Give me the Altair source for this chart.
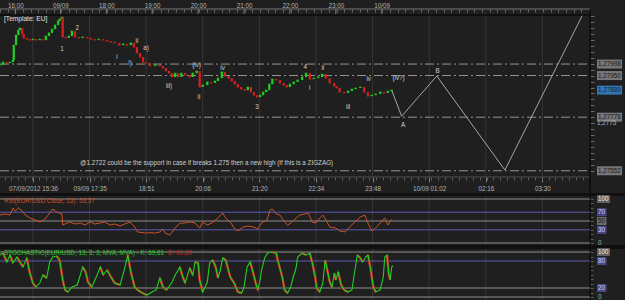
import altair as alt
import numpy as np
import pandas as pd

# ---------------- data (x = trading-clock minutes from the left edge) ----------------
candle_time = [0, 4, 9, 13, 17, 18, 21, 24, 26, 29,
               31, 35, 39, 43, 47, 52, 56, 60, 64, 68,
               72, 76, 78, 81, 82, 86, 90, 94, 98, 103,
               108, 114, 119, 124, 129, 135, 140, 145, 150, 156,
               161, 166, 171, 175, 179, 183, 187, 191, 196, 203,
               209, 213, 217, 221, 225, 229, 233, 237, 242, 248,
               252, 257, 261, 265, 271, 276, 281, 285, 290, 294,
               299, 303, 307, 311, 315, 320, 324, 328, 332, 336,
               340, 344, 348, 352, 356, 361, 366, 371, 375, 379,
               384, 389, 395, 400, 405, 410, 416, 421, 426, 431,
               437, 440, 444, 450, 455, 460, 465, 471, 476, 481,
               486, 491, 497, 502, 507, 512]
candle_close = [1.27994, 1.28006, 1.28002, 1.28006, 1.28015, 1.28077, 1.28119, 1.28140, 1.28148, 1.28123,
                1.28107, 1.28102, 1.28098, 1.28102, 1.28098, 1.28102, 1.28098, 1.28115, 1.28128, 1.28144,
                1.28161, 1.28178, 1.28186, 1.28194, 1.28111, 1.28107, 1.28115, 1.28136, 1.28111, 1.28107,
                1.28111, 1.28107, 1.28102, 1.28098, 1.28102, 1.28098, 1.28094, 1.28090, 1.28086, 1.28077,
                1.28082, 1.28077, 1.28086, 1.28069, 1.28044, 1.28027, 1.28006, 1.28002, 1.27990, 1.27994,
                1.27990, 1.27981, 1.27969, 1.27960, 1.27944, 1.27960, 1.27944, 1.27960, 1.27952, 1.27944,
                1.27960, 1.27969, 1.27902, 1.27910, 1.27923, 1.27919, 1.27927, 1.27939, 1.27965, 1.27948,
                1.27939, 1.27927, 1.27914, 1.27902, 1.27893, 1.27889, 1.27902, 1.27881, 1.27868, 1.27860,
                1.27868, 1.27881, 1.27889, 1.27914, 1.27935, 1.27931, 1.27919, 1.27910, 1.27902, 1.27914,
                1.27923, 1.27931, 1.27944, 1.27960, 1.27935, 1.27939, 1.27944, 1.27956, 1.27939, 1.27919,
                1.27906, 1.27898, 1.27881, 1.27877, 1.27885, 1.27893, 1.27898, 1.27902, 1.27881, 1.27864,
                1.27868, 1.27873, 1.27881, 1.27877, 1.27885, 1.27889]

projection_time = [512, 525, 571, 660, 761]
projection_price = [1.27889, 1.27780, 1.27948, 1.27555, 1.28200]

level_price = [1.27998, 1.27950, 1.27776, 1.27552]
last_price = 1.27889
axis_label_price = [1.2775]

wave_label = ["1", "2", "i", "ii", "a)", "i)", "iii)", "(iv)", "ii", "iv",
              "3", "4", "i", "ii", "iv", "(iv?)", "iii", "A", "B"]
wave_time = [81, 101, 153, 179, 191, 170, 221, 257, 260, 291,
             336, 399, 405, 422, 482, 521, 455, 527, 572]
wave_price = [1.28061, 1.28148, 1.28027, 1.28094, 1.28065, 1.28002, 1.27906, 1.27994, 1.27860, 1.27981,
              1.27818, 1.27985, 1.27898, 1.27981, 1.27935, 1.27939, 1.27818, 1.27743, 1.27969]

rsi_time = [0, 7, 13, 17, 20, 24, 29, 33, 39, 46,
            52, 59, 65, 69, 74, 81, 82, 88, 91, 98,
            105, 111, 118, 124, 131, 137, 144, 150, 157, 163,
            170, 176, 180, 190, 196, 203, 209, 213, 216, 222,
            229, 235, 242, 248, 255, 261, 265, 271, 277, 285,
            291, 295, 301, 306, 311, 318, 324, 331, 337, 342,
            349, 353, 356, 361, 366, 372, 376, 382, 387, 392,
            399, 403, 408, 413, 418, 422, 426, 431, 439, 444,
            451, 457, 464, 471, 477, 481, 486, 491, 497, 503,
            507, 512]
rsi_value = [63.6, 65.9, 63.6, 79.5, 72.7, 79.5, 72.7, 63.6, 56.8, 52.3,
             47.7, 54.5, 68.2, 77.3, 70.5, 65.9, 40.9, 45.5, 47.7, 43.2,
             45.5, 40.9, 47.7, 43.2, 45.5, 47.7, 40.9, 43.2, 38.6, 43.2,
             47.7, 36.4, 25.0, 22.7, 23.5, 22.7, 25.0, 31.8, 22.7, 18.2,
             34.1, 45.0, 45.5, 47.7, 45.5, 34.1, 47.7, 40.9, 45.5, 56.8,
             68.2, 56.8, 47.7, 34.1, 27.3, 36.4, 38.6, 36.4, 31.8, 45.5,
             52.3, 75.0, 77.3, 65.9, 63.6, 47.7, 40.9, 47.7, 56.8, 63.6,
             65.9, 68.2, 47.7, 45.5, 56.8, 63.6, 52.3, 36.4, 34.1, 27.3,
             25.0, 36.4, 47.7, 59.1, 63.6, 45.5, 27.3, 34.1, 45.5, 56.8,
             40.9, 53.6]

stoch_time = [0, 4, 9, 13, 17, 22, 26, 30, 35, 39,
              43, 47, 52, 56, 61, 65, 69, 74, 78, 82,
              85, 89, 94, 101, 105, 108, 112, 115, 120, 127,
              131, 135, 140, 145, 150, 157, 163, 167, 171, 176,
              180, 186, 192, 199, 204, 209, 213, 218, 225, 229,
              233, 235, 239, 242, 246, 248, 252, 255, 259, 261,
              265, 271, 274, 278, 282, 285, 288, 291, 295, 301,
              306, 311, 316, 319, 323, 327, 331, 335, 337, 340,
              342, 346, 350, 356, 361, 363, 369, 372, 376, 380,
              383, 387, 389, 395, 400, 405, 408, 412, 414, 418,
              422, 425, 427, 431, 434, 437, 439, 442, 446, 450,
              455, 460, 464, 467, 471, 474, 478, 481, 484, 488,
              491, 497, 501, 503, 506, 508, 510, 512, 514]
stoch_k = [93.3, 97.8, 77.8, 93.3, 75.6, 88.9, 77.8, 66.7, 86.7, 53.3,
           31.1, 22.2, 31.1, 48.9, 42.2, 77.8, 88.9, 91.0, 82.2, 37.8,
           15.6, 11.1, 22.2, 26.7, 48.9, 66.7, 55.6, 33.3, 22.2, 48.9,
           66.7, 48.9, 60.0, 44.4, 31.1, 26.7, 64.4, 93.3, 55.6, 22.2,
           15.6, 8.9, 4.4, 11.1, 15.6, 42.2, 22.2, 15.6, 33.3, 48.9,
           60.0, 66.7, 44.4, 31.1, 53.3, 64.4, 48.9, 77.8, 75.6, 37.8,
           11.1, 33.3, 75.6, 82.2, 66.7, 42.2, 60.0, 86.7, 82.2, 44.4,
           31.1, 11.1, 8.9, 22.2, 66.7, 77.8, 53.3, 26.7, 15.6, 37.8,
           60.0, 86.7, 97.8, 100.0, 97.8, 82.2, 44.4, 15.6, 8.9, 22.2,
           42.2, 64.4, 88.9, 97.8, 93.3, 97.8, 77.8, 44.4, 20.0, 11.1,
           31.1, 82.2, 66.7, 33.3, 22.2, 53.3, 37.8, 55.6, 26.7, 15.6,
           11.1, 15.6, 60.0, 93.3, 86.7, 77.8, 88.9, 93.3, 66.7, 22.2,
           11.1, 15.6, 44.4, 88.9, 93.3, 53.3, 37.8, 66.7, 69.6]

rsi_gray_levels = [100, 50, 0]
rsi_band_levels = [70, 30]
stoch_gray_levels = [100, 20, 0]
stoch_band_levels = [80]

bottom_tick_time = [43, 117, 191, 265, 339, 413, 487, 561, 635, 709]
bottom_tick_label = ["07/09/2012 15:36", "09/09 17:35", "18:51", "20:06", "21:20",
                     "22:34", "23:48", "10/09 01:02", "02:16", "03:30"]
top_tick_time = [20, 79, 139, 199, 259, 319, 379, 439, 499]
top_tick_label = ["16:00", "09/09", "18:00", "19:00", "20:00", "21:00", "22:00", "23:00", "10/09"]

template_text = "[Template: EU]"
note_text = "@1.2722 could be the support in case if breaks 1.275 then a new high (If this is a ZIGZAG)"
rsi_title = "RSI(EUR/USD.Close, 13): 53,57"
stoch_title = "STOCHASTIC(EUR/USD, 13, 3, 3, MVA, MVA)  -  K: 69,61"
stoch_d_text = "D: 61,60"

assert len(candle_time) == len(candle_close)
assert len(rsi_time) == len(rsi_value)
assert len(stoch_time) == len(stoch_k)
assert len(wave_label) == len(wave_time) == len(wave_price)

# ---------------- styling ----------------
BG = "#1f1f1f"
GRID = "#353535"
FRAME = "#0c0c0c"
TXT = "#cfcfcf"
AXTXT = "#b2b2b2"
GREEN = "#22d022"
RED = "#d42020"
ORANGE = "#cc5328"
LVL = "#959595"
PURPLE = "#5a5ab4"
GRAYLINE = "#8e8e8e"
FONT = "Liberation Sans"
FS = 6.3

X_SCALE = alt.Scale(domain=[0, 817], nice=False, zero=False)
P_SCALE = alt.Scale(domain=[1.27526, 1.28203], range=[177, 15], nice=False, zero=False)
R_SCALE = alt.Scale(domain=[0, 100], range=[243, 199], nice=False, zero=False)
S_SCALE = alt.Scale(domain=[0, 100], range=[297, 252], nice=False, zero=False)


def X(field, axis=None):
    return alt.X(f"{field}:Q", scale=X_SCALE, axis=axis, title=None)


def YS(field, scale, axis=None):
    return alt.Y(f"{field}:Q", scale=scale, axis=axis, title=None)


def label_expr(values, labels):
    expr = "''"
    for v, lab in reversed(list(zip(values, labels))):
        expr = f"datum.value == {v} ? '{lab}' : ({expr})"
    return expr


one = pd.DataFrame({"k": [0]})


def rect(x1, x2, y1, y2, color):
    return alt.Chart(one).mark_rect(color=color).encode(
        x=alt.value(x1), x2=alt.value(x2), y=alt.value(y1), y2=alt.value(y2))


def rule(x1, x2, y1, y2, color, w=1.0):
    return alt.Chart(one).mark_rule(color=color, strokeWidth=w).encode(
        x=alt.value(x1), x2=alt.value(x2), y=alt.value(y1), y2=alt.value(y2))


def text(s, x, y, color, align="left", size=FS):
    return alt.Chart(pd.DataFrame({"s": [s]})).mark_text(
        font=FONT, fontSize=size, color=color, align=align, baseline="middle").encode(
        x=alt.value(x), y=alt.value(y), text="s:N")


layers = []

# separators between panels
layers.append(rect(0, 625, 193, 196, "#101010"))
layers.append(rect(0, 625, 245, 249, "#101010"))

# top time axis (labels) with major ticks in the band
top_df = pd.DataFrame({"t": top_tick_time})
layers.append(alt.Chart(top_df).mark_rule(color="#7c7c7c").encode(
    x=X("t", alt.Axis(orient="top", offset=-9, values=top_tick_time,
                      labelExpr=label_expr(top_tick_time, top_tick_label),
                      ticks=False, domain=False, grid=False, labelColor=AXTXT,
                      labelFont=FONT, labelFontSize=FS, labelPadding=1,
                      labelFlush=False, labelOverlap=False)),
    y=alt.value(9), y2=alt.value(15)))

# top band minor ticks
top_minor = list(range(0, 771, 10))
layers.append(alt.Chart(one).mark_point(opacity=0).encode(
    x=X("k", alt.Axis(orient="bottom", offset=-291, values=top_minor, labels=False,
                      tickSize=3, tickColor="#686868", domain=False, grid=False)),
    y=alt.value(0)))
layers.append(rule(0, 590, 9, 9, "#767676"))

# main vertical grid + bottom time axis
bot_df = pd.DataFrame({"t": bottom_tick_time})
layers.append(alt.Chart(bot_df).mark_rule(color=GRID).encode(
    x=X("t", alt.Axis(orient="bottom", offset=-123, values=bottom_tick_time,
                      labelExpr=label_expr(bottom_tick_time, bottom_tick_label),
                      tickSize=5, tickColor="#7a7a7a", domain=False, grid=False,
                      labelColor=AXTXT, labelFont=FONT, labelFontSize=FS, labelPadding=3,
                      labelFlush=False, labelOverlap=False)),
    y=alt.value(15), y2=alt.value(177)))
bot_minor = list(range(6, 771, 9))
layers.append(alt.Chart(bot_df).mark_rule(color=GRID).encode(
    x=X("t", alt.Axis(orient="bottom", offset=-123, values=bot_minor, labels=False,
                      tickSize=3, tickColor="#5e5e5e", domain=False, grid=False)),
    y=alt.value(196), y2=alt.value(245)))
layers.append(alt.Chart(bot_df).mark_rule(color=GRID).encode(
    x=X("t"), y=alt.value(249), y2=alt.value(300)))

# frame lines
layers.append(rule(0, 590, 15, 15, FRAME, 1.5))
layers.append(rule(0, 590, 177, 177, "#505050", 1))
layers.append(rule(590, 590, 9, 300, FRAME, 1.5))

# price level lines + right price axis (ticks only)
price_ticks = [round(1.2750 + 0.00025 * i, 5) for i in range(29)]
layers.append(alt.Chart(pd.DataFrame({"p": level_price})).mark_rule(
    color=LVL, strokeWidth=1, strokeDash=[9, 3, 2, 3]).encode(
    y=YS("p", P_SCALE, alt.Axis(orient="right", offset=-35, values=price_ticks, labels=False,
                                tickSize=4, tickColor="#6a6a6a", domain=False, grid=False)),
    x=alt.value(0), x2=alt.value(590)))
# plain price label on the axis
layers.append(alt.Chart(pd.DataFrame({"p": axis_label_price,
                                      "s": [f"{v:.4f}".replace(".", ",") for v in axis_label_price]})).mark_text(
    font=FONT, fontSize=FS, color=AXTXT, align="left", baseline="middle").encode(
    x=alt.value(597), y=YS("p", P_SCALE), text="s:N"))

# candles: body from previous close to close
cdf = pd.DataFrame({"t": candle_time, "close": candle_close})
cdf["open"] = cdf["close"].shift(1).fillna(cdf["close"])
cdf["dir"] = np.where(cdf["close"] >= cdf["open"], "up", "down")
ccolor = alt.Color("dir:N", scale=alt.Scale(domain=["up", "down"], range=[GREEN, RED]), legend=None)
layers.append(alt.Chart(cdf).mark_rule(strokeWidth=2.2).encode(
    x=X("t"), y=YS("open", P_SCALE), y2="close:Q", color=ccolor))
layers.append(alt.Chart(cdf).mark_tick(orient="horizontal", size=2.6, thickness=1).encode(
    x=X("t"), y=YS("close", P_SCALE), color=ccolor))

# projected path
layers.append(alt.Chart(pd.DataFrame({"t": projection_time, "p": projection_price})).mark_line(
    color="#a6a6a6", strokeWidth=1).encode(x=X("t"), y=YS("p", P_SCALE)))

# wave labels
layers.append(alt.Chart(pd.DataFrame({"t": wave_time, "p": wave_price, "s": wave_label})).mark_text(
    font=FONT, fontSize=FS, color=TXT, baseline="middle").encode(
    x=X("t"), y=YS("p", P_SCALE), text="s:N"))

layers.append(text(template_text, 4, 19, "#e2e2e2", size=6.6))
layers.append(text(note_text, 80, 163, TXT))

# RSI panel
rsi_ticks = list(range(0, 101, 10))
layers.append(alt.Chart(pd.DataFrame({"v": rsi_gray_levels})).mark_rule(color=GRAYLINE).encode(
    y=YS("v", R_SCALE, alt.Axis(orient="right", offset=-35, values=rsi_ticks, labels=False,
                                tickSize=3, tickColor="#5e5e5e", domain=False, grid=False)),
    x=alt.value(0), x2=alt.value(590)))
layers.append(alt.Chart(pd.DataFrame({"v": rsi_band_levels})).mark_rule(color=PURPLE).encode(
    y=YS("v", R_SCALE), x=alt.value(0), x2=alt.value(590)))
layers.append(alt.Chart(pd.DataFrame({"t": rsi_time, "v": rsi_value})).mark_line(
    color=ORANGE, strokeWidth=1).encode(x=X("t"), y=YS("v", R_SCALE)))
layers.append(text(rsi_title, 4, 201, ORANGE))

# Stochastic panel
layers.append(alt.Chart(pd.DataFrame({"v": stoch_gray_levels})).mark_rule(color=GRAYLINE).encode(
    y=YS("v", S_SCALE, alt.Axis(orient="right", offset=-35, values=rsi_ticks, labels=False,
                                tickSize=3, tickColor="#5e5e5e", domain=False, grid=False)),
    x=alt.value(0), x2=alt.value(590)))
layers.append(alt.Chart(pd.DataFrame({"v": stoch_band_levels})).mark_rule(color=PURPLE).encode(
    y=YS("v", S_SCALE), x=alt.value(0), x2=alt.value(590)))
sdf = pd.DataFrame({"t": stoch_time, "k": stoch_k})
sdf["t0"] = sdf["t"].shift(1)
sdf["k0"] = sdf["k"].shift(1)
sdf = sdf.dropna()
sdf_down = sdf[sdf["k"] < sdf["k0"]]
layers.append(alt.Chart(sdf_down).mark_rule(strokeWidth=2.4, color=RED).encode(
    x=X("t0"), x2="t:Q", y=YS("k0", S_SCALE), y2="k:Q"))
layers.append(alt.Chart(pd.DataFrame({"t": stoch_time, "k": stoch_k})).mark_line(
    color=GREEN, strokeWidth=1.1).encode(x=X("t"), y=YS("k", S_SCALE)))
layers.append(text(stoch_title, 4, 253, GREEN))
layers.append(text(stoch_d_text, 168, 253, RED))

# right-hand value boxes
pbox = pd.DataFrame({"p": level_price, "s": [f"{v:.5f}".replace(".", ",") for v in level_price]})
layers.append(alt.Chart(pbox).mark_tick(orient="horizontal", size=25, thickness=9, color="#9c9c9c").encode(
    x=alt.value(609.5), y=YS("p", P_SCALE)))
layers.append(alt.Chart(pbox).mark_text(font=FONT, fontSize=FS, color="#161616", align="left", baseline="middle").encode(
    x=alt.value(598), y=YS("p", P_SCALE), text="s:N"))
lbox = pd.DataFrame({"p": [last_price], "s": [f"{last_price:.5f}".replace(".", ",")]})
layers.append(alt.Chart(lbox).mark_tick(orient="horizontal", size=25, thickness=9, color="#3d9df2").encode(
    x=alt.value(609.5), y=YS("p", P_SCALE)))
layers.append(alt.Chart(lbox).mark_text(font=FONT, fontSize=FS, color="#08213a", align="left", baseline="middle").encode(
    x=alt.value(598), y=YS("p", P_SCALE), text="s:N"))


def ind_boxes(levels, scale, color, tcolor, width, center):
    d = pd.DataFrame({"v": levels, "s": [str(v) for v in levels]})
    b = alt.Chart(d).mark_tick(orient="horizontal", size=width, thickness=8, color=color).encode(
        x=alt.value(center), y=YS("v", scale))
    t = alt.Chart(d).mark_text(font=FONT, fontSize=FS, color=tcolor, align="left", baseline="middle").encode(
        x=alt.value(598), y=YS("v", scale), text="s:N")
    return [b, t]


layers += ind_boxes([100], R_SCALE, "#7c7c7c", "#f0f0f0", 13, 603.5)
layers += ind_boxes([50], R_SCALE, "#8a8a8a", "#141414", 9.5, 601.75)
layers += ind_boxes(rsi_band_levels, R_SCALE, PURPLE, "#d0d0ff", 9.5, 601.75)
layers.append(alt.Chart(pd.DataFrame({"v": [0], "s": ["0"]})).mark_text(
    font=FONT, fontSize=FS, color=AXTXT, align="left", baseline="middle").encode(
    x=alt.value(598), y=YS("v", R_SCALE), text="s:N"))
layers += ind_boxes([100], S_SCALE, "#7c7c7c", "#f0f0f0", 13, 603.5)
layers += ind_boxes([80, 20], S_SCALE, PURPLE, "#d0d0ff", 9.5, 601.75)
layers.append(alt.Chart(pd.DataFrame({"v": [0], "s": ["0"]})).mark_text(
    font=FONT, fontSize=FS, color=AXTXT, align="left", baseline="middle").encode(
    x=alt.value(598), y=YS("v", S_SCALE), text="s:N"))

chart = alt.layer(*layers).resolve_scale(y="independent").resolve_axis(x="independent").properties(
    width=625, height=300, background=BG, padding=0,
    autosize=alt.AutoSizeParams(type="none")).configure_view(stroke=None)

chart.save("out.html", embed_options={"renderer": "svg", "actions": False})
